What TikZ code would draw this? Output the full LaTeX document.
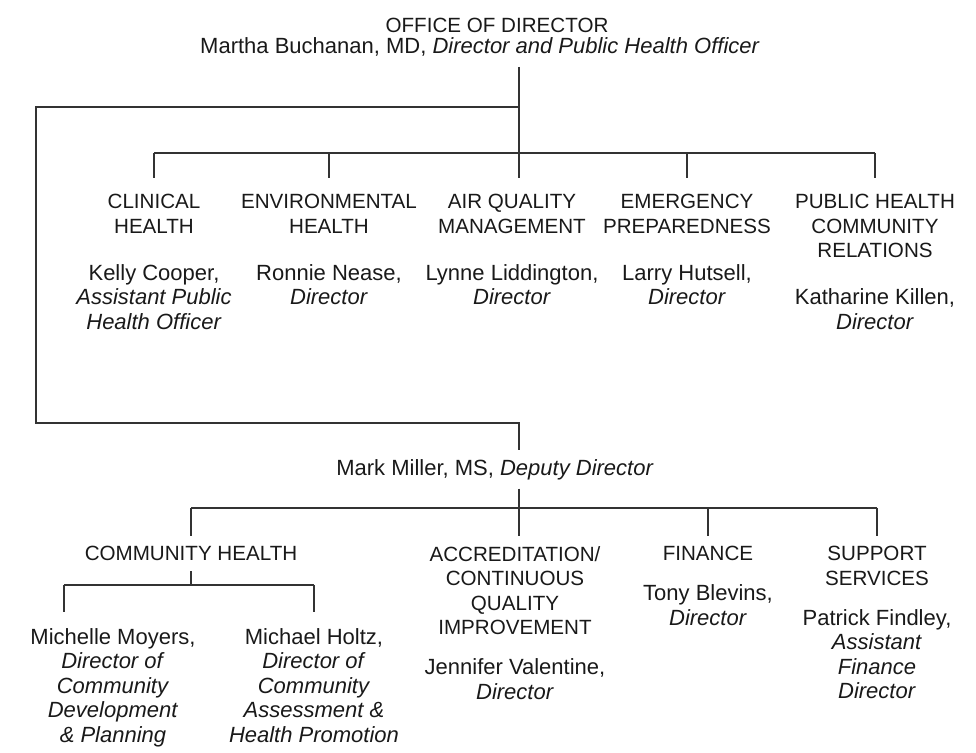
\documentclass[tikz,border=0pt]{standalone}
\usepackage{fontspec}
\setmainfont{Liberation Sans}
\usetikzlibrary{positioning}

\begin{document}
\begin{tikzpicture}[x=0.5pt,y=-0.5pt,
  unit/.style={align=center,inner sep=0pt,text=black!90},
  hd/.style={unit,font=\fontsize{10.3}{12.25}\selectfont},
  nm/.style={unit,font=\fontsize{11}{12.25}\selectfont},
  link/.style={draw=black!80,line width=0.75pt}]
\useasboundingbox (0,0) rectangle (976,753);
% office of director
\node[hd] (office) at (497,25) {OFFICE OF DIRECTOR};
\node[nm] (martha) at (480,47) {Martha Buchanan, MD, \textit{Director and Public Health Officer}};
\coordinate (dtop) at (519,67);
\coordinate (split) at (519,107);
\coordinate (hub) at (519,153);
% first row
\node[hd,anchor=north] (clin) at (154,194) {CLINICAL\\HEALTH};
\node[nm,below=15pt of clin] (cooper) {Kelly Cooper,\\\textit{Assistant Public}\\\textit{Health Officer}};
\node[hd,anchor=north] (env) at (329,194) {ENVIRONMENTAL\\HEALTH};
\node[nm,below=15pt of env] (nease) {Ronnie Nease,\\\textit{Director}};
\node[hd,anchor=north] (aq) at (512,194) {AIR QUALITY\\MANAGEMENT};
\node[nm,below=15pt of aq] (liddington) {Lynne Liddington,\\\textit{Director}};
\node[hd,anchor=north] (emer) at (687,194) {EMERGENCY\\PREPAREDNESS};
\node[nm,below=15pt of emer] (hutsell) {Larry Hutsell,\\\textit{Director}};
\node[hd,anchor=north] (pub) at (875,194) {PUBLIC HEALTH\\COMMUNITY\\RELATIONS};
\node[nm,below=15pt of pub] (killen) {Katharine Killen,\\\textit{Director}};
\draw[link] (dtop) -- (hub);
\draw[link] (clin.north |- hub) -- (pub.north |- hub);
\foreach \n in {clin,env,emer,pub}
  \draw[link] (\n.north |- hub) -- ([yshift=8pt]\n.north);
\draw[link] (hub) -- ([yshift=8pt]aq.north -| hub);
% deputy director
\node[nm] (deputy) at (495,470) {Mark Miller, MS, \textit{Deputy Director}};
\draw[link] (split) -| (36,423) -| ([yshift=4.5pt]deputy.north -| split);
\coordinate (dhub) at (519,508);
% second row
\node[hd,anchor=north] (comm) at (191,546) {COMMUNITY HEALTH};
\node[hd,anchor=north] (accr) at (515,546) {ACCREDITATION/\\CONTINUOUS\\QUALITY\\IMPROVEMENT};
\node[nm,below=11.5pt of accr] (valentine) {Jennifer Valentine,\\\textit{Director}};
\node[hd,anchor=north] (fin) at (708,546) {FINANCE};
\node[nm,below=11.5pt of fin] (blevins) {Tony Blevins,\\\textit{Director}};
\node[hd,anchor=north] (supp) at (877,546) {SUPPORT\\SERVICES};
\node[nm,below=11.5pt of supp] (findley) {Patrick Findley,\\\textit{Assistant}\\\textit{Finance}\\\textit{Director}};
\draw[link] ([yshift=-4pt]deputy.south -| dhub) -- ([yshift=5pt]accr.north -| dhub);
\draw[link] (comm.north |- dhub) -- (supp.north |- dhub);
\foreach \n in {comm,fin,supp}
  \draw[link] (\n.north |- dhub) -- ([yshift=5pt]\n.north);
% community health
\node[nm,anchor=north] (moyers) at (113,628) {Michelle Moyers,\\\textit{Director of}\\\textit{Community}\\\textit{Development}\\\textit{\& Planning}};
\node[nm,anchor=north] (holtz) at (314,628) {Michael Holtz,\\\textit{Director of}\\\textit{Community}\\\textit{Assessment \&}\\\textit{Health Promotion}};
\coordinate (cleft) at (64,585);
\draw[link] ([yshift=-5pt]comm.south) -- (comm.south |- cleft);
\draw[link] (cleft) -- (holtz.north |- cleft);
\draw[link] (cleft) -- ([yshift=8pt]cleft |- moyers.north);
\draw[link] (holtz.north |- cleft) -- ([yshift=8pt]holtz.north);
\end{tikzpicture}
\end{document}
